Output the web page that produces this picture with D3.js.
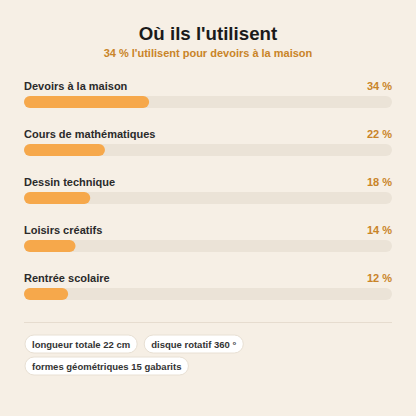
<!DOCTYPE html>
<html><head><meta charset="utf-8">
<script src="https://cdn.jsdelivr.net/npm/d3@7"></script>
<style>
body{margin:0;background:#f6efe5;font-family:"Liberation Sans",Arial,sans-serif}
</style></head><body>
<svg width="416" height="416"></svg>
<script>
// Data
const categories = ['Devoirs à la maison', 'Cours de mathématiques', 'Dessin technique', 'Loisirs créatifs', 'Rentrée scolaire'];
const values = [34, 22, 18, 14, 12];
const chips = ['longueur totale 22 cm', 'disque rotatif 360 °', 'formes géométriques 15 gabarits'];

const svg = d3.select('svg');
svg.append('rect').attr('width', 416).attr('height', 416).attr('fill', '#f6efe5');

svg.append('text').attr('x', 208).attr('y', 40).attr('text-anchor', 'middle')
    .attr('font-size', 18.7).attr('font-weight', 'bold').attr('fill', '#1a1a1a')
    .text("Où ils l'utilisent");
svg.append('text').attr('x', 208).attr('y', 57).attr('text-anchor', 'middle')
    .attr('font-size', 11).attr('font-weight', 'bold').attr('fill', '#c98428')
    .text("34 % l'utilisent pour devoirs à la maison");

const x = d3.scaleLinear().domain([0, 100]).range([24, 392]);
const y = d3.scaleBand().domain(categories).range([72, 312]);

const rows = svg.selectAll('g.row').data(categories).enter().append('g')
    .attr('transform', d => `translate(0,${y(d)})`);

rows.append('text').attr('x', 24).attr('y', 18).attr('font-size', 11)
    .attr('font-weight', 'bold').attr('fill', '#2a2a2a').text(d => d);
rows.append('text').attr('x', 392).attr('y', 18).attr('text-anchor', 'end')
    .attr('font-size', 11).attr('font-weight', 'bold').attr('fill', '#c98428').text((d, i) => values[i] + ' %');
rows.append('rect').attr('x', x(0)).attr('y', 24).attr('width', x(100) - x(0))
    .attr('height', 12).attr('rx', 6).attr('fill', '#ebe3d7');
rows.append('rect').attr('x', x(0)).attr('y', 24).attr('width', (d, i) => x(values[i]) - x(0))
    .attr('height', 12).attr('rx', 6).attr('fill', '#f6a84b');

svg.append('line').attr('x1', 24).attr('x2', 392).attr('y1', 322.5).attr('y2', 322.5)
    .attr('stroke', '#e6dccf').attr('stroke-width', 1);

// chips, wrapped
let cx = 25, cy = 335;
chips.forEach(c => {
    const g = svg.append('g');
    const t = g.append('text').attr('font-size', 9.5).attr('font-weight', 'bold')
        .attr('fill', '#333').text(c);
    const w = t.node().getComputedTextLength() + 14;
    if (cx + w > 392) { cx = 25; cy += 22; }
    g.insert('rect', 'text').attr('x', cx).attr('y', cy).attr('width', w).attr('height', 18)
        .attr('rx', 9).attr('fill', '#fff').attr('stroke', '#e8e0d4');
    t.attr('x', cx + 7).attr('y', cy + 12.5);
    cx += w + 7;
});
</script>
</body></html>
